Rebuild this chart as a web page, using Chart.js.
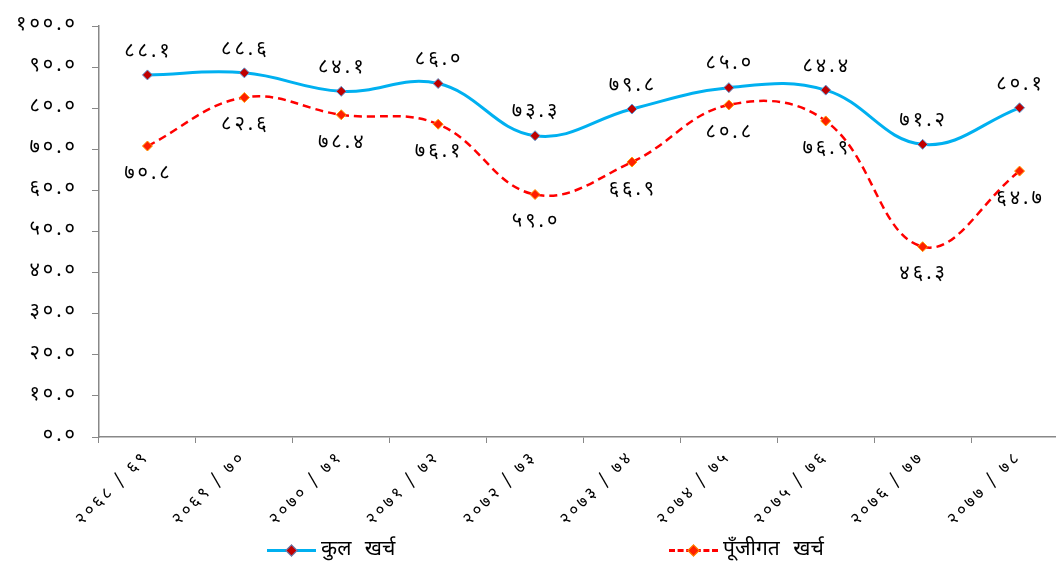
<!DOCTYPE html>
<html>
<head>
<meta charset="utf-8">
<script src="https://cdn.jsdelivr.net/npm/chart.js@4/dist/chart.umd.min.js"></script>
<style>
    html, body { margin: 0; padding: 0; background: #fff; overflow: hidden; }
    #wrap { position: relative; width: 1056px; height: 567px; overflow: hidden; }
    #expenseChart { position: absolute; left: 0; top: 0; }
    .legend { position: absolute; top: 536px; display: flex; align-items: center;
              font-family: "Noto Sans Devanagari", "Lohit Devanagari", "FreeSans", "Noto Sans", sans-serif;
              font-size: 21px; word-spacing: 8px; color: #000; }
    .swatch { position: relative; width: 49px; height: 14px; margin-right: 5px; }
    .swatch .ln { position: absolute; left: 0; right: 0; top: 6px; height: 0; }
    .swatch .dm { position: absolute; left: 20px; top: 3px; width: 7px; height: 7px; transform: rotate(45deg); }
</style>
</head>
<body>
<div id="wrap">
    <canvas id="expenseChart" width="1074" height="567"></canvas>
    <div class="legend" style="left: 267px;">
        <div class="swatch"><div class="ln" style="border-top: 3px solid #00b0f0;"></div><div class="dm" style="background:#c00000; border:1px solid #5b9bd5;"></div></div>
        <span>कुल खर्च</span>
    </div>
    <div class="legend" style="left: 669px;">
        <div class="swatch"><div class="ln" style="border-top: 3px dashed #ff0000;"></div><div class="dm" style="background:#ff2000; border:1px solid #ff9900;"></div></div>
        <span>पूँजीगत खर्च</span>
    </div>
</div>
<script>
// Fiscal years (Bikram Sambat)
const years = ['२०६८ / ६९', '२०६९ / ७०', '२०७० / ७१', '२०७१ / ७२', '२०७२ / ७३',
               '२०७३ / ७४', '२०७४ / ७५', '२०७५ / ७६', '२०७६ / ७७', '२०७७ / ७८'];

// Total expenditure (%)
const totalSpending = [88.1, 88.6, 84.1, 86.0, 73.3, 79.8, 85.0, 84.4, 71.2, 80.1];
// Capital expenditure (%)
const capitalSpending = [70.8, 82.6, 78.4, 76.1, 59.0, 66.9, 80.8, 76.9, 46.3, 64.7];

const seriesNames = ['कुल खर्च', 'पूँजीगत खर्च'];

const devFont = '"Noto Sans Devanagari", "Lohit Devanagari", "FreeSans", "Noto Sans", sans-serif';
const devDigits = ['०', '१', '२', '३', '४', '५', '६', '७', '८', '९'];

function toDev(str) {
    return String(str).replace(/[0-9]/g, d => devDigits[+d]);
}

// wider letter spacing, the original font has broad digits
const spacing = {
    id: 'spacing',
    beforeDraw(chart) {
        chart.ctx.letterSpacing = '3px';
    }
};

// Draws value labels above (total) or below (capital) each point
const valueLabels = {
    id: 'valueLabels',
    afterDatasetsDraw(chart) {
        const ctx = chart.ctx;
        ctx.save();
        ctx.font = '20px ' + devFont;
        ctx.letterSpacing = '3px';
        ctx.fillStyle = '#000';
        ctx.textAlign = 'center';
        ctx.textBaseline = 'middle';
        chart.data.datasets.forEach((ds, di) => {
            const meta = chart.getDatasetMeta(di);
            const shift = di === 0 ? -22 : 29;
            meta.data.forEach((pt, i) => {
                ctx.fillText(toDev(ds.data[i].toFixed(1)), pt.x + 1, pt.y + shift);
            });
        });
        ctx.restore();
    }
};

const ctx = document.getElementById('expenseChart').getContext('2d');

new Chart(ctx, {
    type: 'line',
    data: {
        labels: years,
        datasets: [
            {
                label: seriesNames[0],
                data: totalSpending,
                borderColor: '#00b0f0',
                borderWidth: 3,
                tension: 0.4,
                pointStyle: 'rectRot',
                pointRadius: 5,
                pointBackgroundColor: '#c00000',
                pointBorderColor: '#5b9bd5',
                pointBorderWidth: 1
            },
            {
                label: seriesNames[1],
                data: capitalSpending,
                borderColor: '#ff0000',
                borderWidth: 2.5,
                borderDash: [8, 5],
                tension: 0.4,
                pointStyle: 'rectRot',
                pointRadius: 5,
                pointBackgroundColor: '#ff2000',
                pointBorderColor: '#ff9900',
                pointBorderWidth: 1
            }
        ]
    },
    options: {
        responsive: false,
        animation: false,
        layout: { padding: { top: 25, right: 0, left: 0, bottom: 0 } },
        plugins: {
            legend: { display: false },
            tooltip: { enabled: false }
        },
        scales: {
            x: {
                offset: true,
                grid: { drawOnChartArea: false, offset: true, tickLength: 6, color: '#888' },
                border: { color: '#888', width: 1.5 },
                ticks: {
                    minRotation: 45,
                    maxRotation: 45,
                    padding: 5,
                    color: '#000',
                    font: { family: devFont, size: 17 }
                },
                afterFit(scale) { scale.height = 130; }
            },
            y: {
                min: 0,
                max: 100,
                grid: { drawOnChartArea: false, tickLength: 7, color: '#888' },
                border: { color: '#888', width: 1.5 },
                ticks: {
                    stepSize: 10,
                    padding: 14,
                    color: '#000',
                    font: { family: devFont, size: 20 },
                    callback: v => toDev(v.toFixed(1))
                },
                afterFit(scale) { scale.width = 99; }
            }
        }
    },
    plugins: [spacing, valueLabels]
});
</script>
</body>
</html>
